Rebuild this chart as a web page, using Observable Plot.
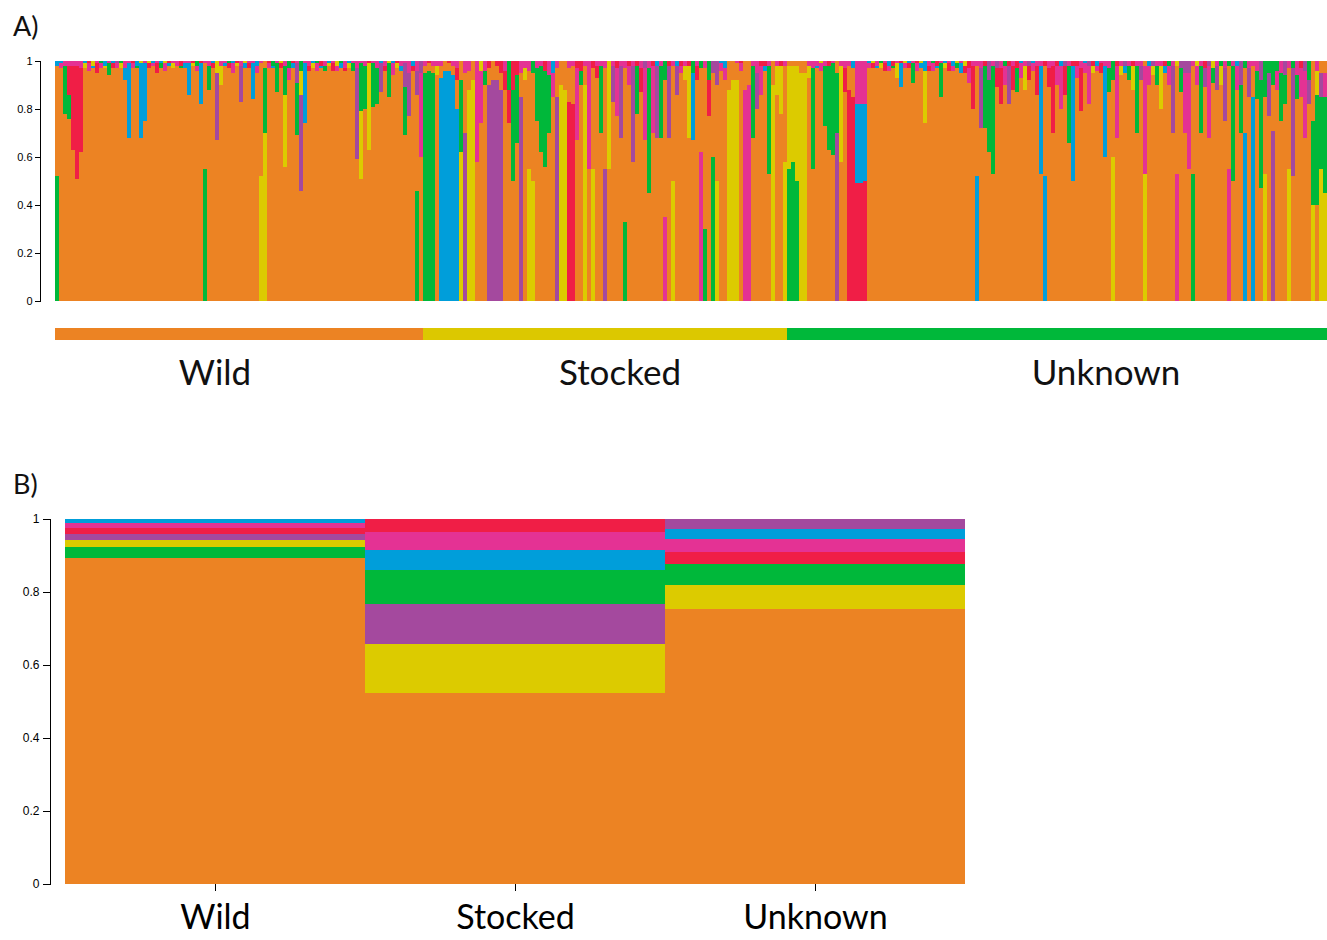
<!DOCTYPE html>
<html>
<head>
<meta charset="utf-8">
<script src="https://cdn.jsdelivr.net/npm/d3@7"></script>
<script src="https://cdn.jsdelivr.net/npm/@observablehq/plot@0.6"></script>
<style>
  body { margin: 0; background: #fff; }
  #root { position: relative; width: 1327px; height: 940px; background: #fff; overflow: hidden; }
  .panel { position: absolute; left: 0; }
  .plab { position: absolute; font-family: Lato, "Open Sans", sans-serif; font-size: 27px; color: #111; }
  .glab { position: absolute; width: 300px; text-align: center; font-family: Lato, "Open Sans", sans-serif; font-size: 35px; color: #111; }
</style>
</head>
<body>
<div id="root">
  <div class="plab" style="left:13px; top:9px;">A)</div>
  <div id="panelA" class="panel" style="top:0px;"></div>
  <div id="groupBar" class="panel" style="top:328px;"></div>
  <div class="glab" style="left:65px; top:350px;">Wild</div>
  <div class="glab" style="left:470px; top:350px;">Stocked</div>
  <div class="glab" style="left:956px; top:350px;">Unknown</div>
  <div class="plab" style="left:13px; top:467px;">B)</div>
  <div id="panelB" class="panel" style="top:500px;"></div>
</div>
<script>
// ---------- clusters ----------
const clusterKeys = ["O", "Y", "G", "B", "P", "M", "R"];
const clusterColors = ["#EC8323", "#DCCB00", "#00B83A", "#009EDA", "#A4499E", "#E43294", "#F01E46"];
const letterToCluster = {o: "O", y: "Y", g: "G", b: "B", p: "P", m: "M", r: "R"};

const groupNames = ["Wild", "Stocked", "Unknown"];
const groupColors = ["#EC8323", "#DCC800", "#00B83A"];
const yTicks = [0, 0.2, 0.4, 0.6, 0.8, 1];

// ---------- panel A: individual membership (bottom-to-top, percent; "o" = orange remainder) ----------
const wildInd = [
  "g52 o b2", "o m2 b1", "o g20 m2", "o g10 r12 m2", "o r35 m2", "o r47 m2", "o r35 m3", "o y2 b1",
  "o m3 r1", "o b1 y2", "o r4 m1", "o m2 g1", "o y1 b2", "o g5 m1", "o r2 b1", "o m2 p1",
  "o y2 g1", "o b5 m3", "o b31 m1", "o m2 r1", "o g1 b2", "o b31 y1", "o b24 m1", "o r2 y1",
  "o m1 b1", "o r4 m1", "o g2 b1", "o m3 y1", "o b1 r1", "o y2 m1", "o m2", "o g1 r2",
  "o b2 m1", "o b13 m1", "o y1 r1", "o m2 g2", "o b17 r1", "g55 o m1", "o g10 m2", "o r2 b1",
  "o p28 y5", "o y8 m2", "o b1 m1", "o r2 g1", "o m4 b1", "o y1 r1", "o p15 m2", "o b2 y1",
  "o r2 m1", "o b15 m1", "o m3 b2", "y52 o m1", "y70 g27 o", "o m2 r1", "o b1 g2", "o g12 m1",
  "o r2 y1", "o y30 g12 m2", "o m5 g3", "o b2 r1", "o g22 p8 m1", "o p40 y10 g4", "o b25 m1", "o r2 m2",
  "o y2 b1", "o m3 g1", "o b1 r2", "o g2 m2", "o y1 b1", "o r3 m1", "o m2 y2", "o b2 g1",
  "o r1 m3", "o y2 b1", "o g3 m1", "o p38 m3", "o y28 g20 m1", "o g18 m2", "o y36 r1", "o g18 m1",
  "o g15 m3", "o p12 b1", "o r2 m2", "o g14 y1", "o m5 b1", "o y2 r1", "o b2 m2", "o g20 p10 m1",
  "o p18 m5", "o r2 b2", "g46 o p10 m4", "o m35 p5"
];
const stockedInd = [
  "g95 o m2", "g96 o r1", "g95 o m2", "o y4 m2", "b93 o m2", "b96 o", "b96 o r1", "b94 o m2",
  "b80 o r5 m3", "y62 g30 o", "p70 o m5", "y88 o m4", "y92 o", "o m42", "o m22 y4", "o g6 m4",
  "p90 o r3", "p92 o", "p92 o r2", "p88 o r5", "o r8 m4", "o r14 g12", "o g38 r12", "o g28 r6",
  "p85 o m5", "o y5 m3", "y55 o m4", "y50 o g5", "o g22 m3", "o g36 m2", "o g40 r4", "o g24 m6",
  "o m10 b5", "p85 o m3", "y90 o", "y88 o", "r83 o m3", "r82 o m2", "o m30 r3", "o g6 r4",
  "y90 o m2", "o m45", "y55 o r3", "o r5 m2", "o g28 m2", "p55 o m3", "o y45", "o p15 m2",
  "o m20 r3", "o p30 m2", "g33 o m3", "o m8 r2", "o p40 m2", "o g20 r2", "o r10 m3", "o m30 p3",
  "o g52 m3", "o m28 r2", "o p30 b2", "o g30 m2", "m35 o g8", "o p30 r2", "y50 o m2", "o p12 b2",
  "o m3 r2", "o y6 m2", "o y30 r2", "o b28 g5", "o r6 m2", "m62 o g3", "g30 o m3", "o r15 g8",
  "g60 o p5", "y50 o p10", "o m3 b1", "o m5 b3", "y88 o", "y92 o", "y92 o m1", "o m3 r1",
  "m88 o", "m90 o", "o g30 m2", "o p15 m5", "o m12 r2", "o b2 r2", "o g45 m2", "y90 o",
  "o y12 m2", "o y20 r2", "y58 o m2"
];
const unknownInd = [
  "g55 y43 o", "g58 y40 o", "g50 y48 o", "y95 o", "y95 o", "o y5 m2", "o g42 m3", "o b1 m2",
  "o m3 y1", "o g25 m2", "o g35 r2", "o g38 m1", "p70 g25 o", "o y40 m2", "o r10 m3", "r88 o m2",
  "r85 o b3", "r49 b33 m18", "r49 b33 m18", "r50 b32 m18", "o m2 b1", "o r2 y1", "o b1 m2", "o y2 g1",
  "o r3 m1", "o m2 b2", "o g1 r2", "o y6 m1", "o b10 r1", "o m2 y1", "o r2 b1", "o g8 m1",
  "o m3 r1", "o b2 y1", "o y22 b4", "o r2 m2", "o m3 g1", "o b1 r2", "o g14 m1", "o y2 b1",
  "o r3 m1", "o m2 b2", "o g2 y1", "o b4 m1", "o r3 y2", "o m6 r3", "o r18 m2", "b52 o m2",
  "o p25 m3", "o g26 r2", "o g30 p8", "o g45 m2", "o r8 p3", "o r15 m3", "o m8 g2", "o p16 r2",
  "o r10 m2", "o g10 r3", "o m6 b1", "o y10 m2", "o r6 p2", "o m3 b1", "o r12 m2", "o b45 m2",
  "b52 o r2", "o r8 m3", "o r28 m2", "o m8 r2", "o m18 b2", "o r12 p2", "o g32 m2", "o b48 r2",
  "o m5 r2", "o r18 m3", "o m4 b1", "o m16 p2", "o y3 r2", "o m2 b2", "o r4 m1", "o b38 m2",
  "o g10 m3", "y60 o g8", "o m30 r2", "o y4 m2", "o b3 p2", "o g6 m2", "o y10 r2", "o g28 m2",
  "o p6 m2", "y53 m45 o", "o m8 b2", "o y4 p2", "o g8 m2", "o y18 m2", "o b3 r2", "o m8 g2",
  "o p28 m2", "m53 o y2", "o g10 p3", "o m25 p5", "o m40 p5", "g53 o m2", "o m8 y2", "o g28 m2",
  "o p8 r3", "o m30 p2", "o g6 y3", "o p10 m2", "o y8 g2", "o p22 m3", "m55 o g2", "o g48 m2",
  "o m10 b2", "o g20 p10", "b70 o g3", "o p12 m3", "b85 o m2", "o g12 m4", "o g45 p8", "y53 o g15",
  "o p18 g5", "p71 o g10", "o m8 g4", "o g20 m5", "o g12 p6", "y55 o m3", "o p45 g3", "o g10 m6",
  "o m12 r3", "o m28 p4", "o p10 g8", "y40 g35 o", "o g46 y10 m4", "y55 g30 p10 o", "y45 g40 m10 o"
];

// ---------- panel B: group mean membership (bottom-to-top) ----------
const barGroups = ["Wild", "Stocked", "Unknown"];
const barClusters = [
  ["O", "G", "Y", "P", "R", "M", "B"],
  ["O", "Y", "P", "G", "B", "M", "R"],
  ["O", "Y", "G", "R", "M", "B", "P"]
];
const barShares = [
  [0.892, 0.030, 0.021, 0.015, 0.017, 0.013, 0.012],
  [0.523, 0.134, 0.111, 0.093, 0.054, 0.049, 0.036],
  [0.753, 0.065, 0.059, 0.032, 0.036, 0.028, 0.027]
];

// ---------- build tables ----------
function parseComp(str) {
  const toks = str.trim().split(/\s+/);
  if (!toks.includes("o")) toks.unshift("o");
  const others = toks.filter(t => t !== "o").reduce((s, t) => s + (+t.slice(1)), 0);
  return toks.map(t => t === "o"
    ? {cluster: "O", q: (100 - others) / 100}
    : {cluster: letterToCluster[t[0]], q: (+t.slice(1)) / 100}
  ).filter(d => d.q > 0);
}

const individuals = [];
[wildInd, stockedInd, unknownInd].forEach((arr, gi) => {
  arr.forEach(s => individuals.push({id: individuals.length, group: groupNames[gi], comp: s}));
});
const ids = individuals.map(d => d.id);
const rowsA = individuals.flatMap(ind => parseComp(ind.comp).map(p => ({id: ind.id, cluster: p.cluster, q: p.q})));

const rowsB = barGroups.flatMap((g, gi) => barClusters[gi].map((c, ci) => ({group: g, cluster: c, share: barShares[gi][ci]})));

const axisFont = "'Liberation Sans', Arial, Helvetica, sans-serif";

// ---------- Panel A ----------
const plotA = Plot.plot({
  width: 1327,
  height: 312,
  marginTop: 61,
  marginBottom: 11,
  marginLeft: 40,
  marginRight: 0,
  style: {fontFamily: axisFont, color: "#000", background: "transparent"},
  x: {type: "band", domain: ids, padding: 0, insetLeft: 14, axis: null},
  y: {domain: [0, 1], axis: null},
  color: {domain: clusterKeys, range: clusterColors},
  marks: [
    Plot.barY(rowsA, {x: "id", y: "q", fill: "cluster", inset: 0, shapeRendering: "crispEdges"}),
    Plot.axisY({ticks: yTicks, tickFormat: d => String(d), tickSize: 5, tickPadding: 3, fontSize: 11, label: null}),
    Plot.frame({anchor: "left"})
  ]
});
document.getElementById("panelA").appendChild(plotA);

// ---------- group bar ----------
const plotG = Plot.plot({
  width: 1327,
  height: 12,
  marginTop: 0,
  marginBottom: 0,
  marginLeft: 40,
  marginRight: 0,
  style: {background: "transparent"},
  x: {type: "band", domain: ids, padding: 0, insetLeft: 14, axis: null},
  y: {domain: [0, 1], axis: null},
  color: {domain: groupNames, range: groupColors},
  marks: [
    Plot.barY(individuals, {x: "id", y1: 0, y2: 1, fill: "group", inset: 0, shapeRendering: "crispEdges"})
  ]
});
document.getElementById("groupBar").appendChild(plotG);

// ---------- Panel B ----------
const plotB = Plot.plot({
  width: 966,
  height: 440,
  marginTop: 19,
  marginBottom: 56,
  marginLeft: 50,
  marginRight: 1,
  style: {fontFamily: axisFont, color: "#000", background: "transparent"},
  x: {domain: barGroups, padding: 0, insetLeft: 15},
  y: {domain: [0, 1]},
  color: {domain: clusterKeys, range: clusterColors},
  marks: [
    Plot.barY(rowsB, {x: "group", y: "share", fill: "cluster", inset: 0, shapeRendering: "crispEdges"}),
    Plot.axisY({ticks: yTicks, tickFormat: d => String(d), tickSize: 7, tickPadding: 4, fontSize: 12, label: null}),
    Plot.axisX({tickSize: 7, tickPadding: 13, fontSize: 34, fontFamily: "Lato, 'Open Sans', sans-serif", label: null}),
    Plot.frame({anchor: "left"})
  ]
});
document.getElementById("panelB").appendChild(plotB);
</script>
</body>
</html>
